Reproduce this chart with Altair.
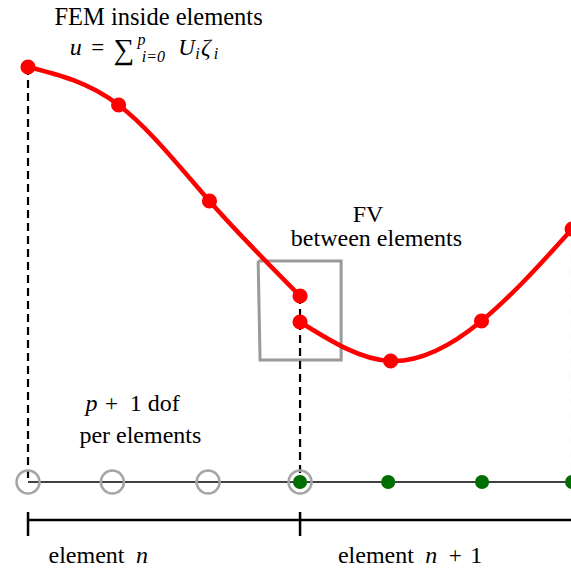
import altair as alt
import pandas as pd

# Coordinates: x runs along the mesh (element n covers [0, 1], element n+1 covers [1, 2]);
# u is the value of the discrete solution, with the dof line at u = 0.
nodes_x_n = [0.0, 0.333, 0.667, 1.0]
nodes_u_n = [4.15, 3.77, 2.81, 1.86]
nodes_x_n1 = [1.0, 1.333, 1.667, 2.0]
nodes_u_n1 = [1.60, 1.21, 1.61, 2.53]

# degrees of freedom drawn on the mesh line
dof_open_x = [0.0, 0.31, 0.662, 1.0]
dof_filled_x = [1.0, 1.324, 1.669, 2.0]

# element interfaces (vertical dashed guides) and the value where each starts
guide_x = [0.0, 1.0, 2.0]
guide_top = [4.15, 1.86, 2.53]

# FV flux box around the interface jump
box_x = [0.846, 1.151, 1.151, 0.853, 0.846]
box_u = [2.21, 2.21, 1.22, 1.22, 2.21]

# element bar below the dof line
bar_u = -0.38
bar_tick_x = [0.0, 1.0]
bar_tick_lo = -0.54
bar_tick_hi = -0.30

FONT = "Liberation Serif"

# text pieces, each centred on (x, u) with u on the text baseline
label_text = ["FEM inside elements",
              "u", "=", "∑", "p", "i=0", "U", "i", "ζ", "i",
              "FV", "between elements",
              "p", "+", "1 dof", "per elements",
              "element", "n", "element", "n", "+", "1"]
label_x = [0.480,
           0.175, 0.256, 0.353, 0.417, 0.461, 0.583, 0.623, 0.654, 0.691,
           1.250, 1.281,
           0.233, 0.307, 0.466, 0.413,
           0.215, 0.419, 1.279, 1.482, 1.570, 1.648]
label_u = [4.57,
           4.27, 4.27, 4.23, 4.37, 4.20, 4.27, 4.23, 4.27, 4.23,
           2.60, 2.36,
           0.71, 0.71, 0.71, 0.39,
           -0.81, -0.81, -0.81, -0.81, -0.81, -0.81]
label_style = ["normal",
               "italic", "normal", "normal", "italic", "italic", "italic", "italic", "italic", "italic",
               "normal", "normal",
               "italic", "normal", "normal", "normal",
               "normal", "italic", "normal", "italic", "normal", "normal"]
label_size = [24.5,
              24, 23, 29, 16, 16, 23, 16, 24, 16,
              24, 24,
              24, 23, 24, 24,
              24, 24, 24, 24, 23, 24]

RED = "#ff0000"
GREEN = "#006e00"
GREY = "#a6a6a6"

xs = alt.Scale(domain=[-0.103, 1.996], nice=False, zero=False)
ys = alt.Scale(domain=[-0.9, 4.82], nice=False, zero=False)

curve = pd.DataFrame({
    "x": nodes_x_n + nodes_x_n1,
    "u": nodes_u_n + nodes_u_n1,
    "element": ["n"] * 4 + ["n+1"] * 4,
})
dof = pd.DataFrame({"x": dof_open_x + dof_filled_x, "u": 0.0,
                    "kind": ["open"] * 4 + ["filled"] * 4})
guides = pd.DataFrame({"x": guide_x, "top": guide_top, "bottom": 0.0})
box = pd.DataFrame({"x": box_x, "u": box_u, "order": list(range(len(box_x)))})
ticks = pd.DataFrame({"x": bar_tick_x, "lo": bar_tick_lo, "hi": bar_tick_hi})
labels = pd.DataFrame({"text": label_text, "x": label_x, "u": label_u,
                       "style": label_style, "size": label_size})


def X(f="x"):
    return alt.X(f"{f}:Q", scale=xs, axis=None)


def Y(f="u"):
    return alt.Y(f"{f}:Q", scale=ys, axis=None)


box_layer = alt.Chart(box).mark_line(color="#999999", strokeWidth=3, strokeJoin="miter").encode(
    x=X(), y=Y(), order="order:Q")

guide_layer = alt.Chart(guides).mark_rule(color="black", strokeWidth=2.2, strokeDash=[8, 5]).encode(
    x=X(), y=Y("top"), y2="bottom:Q")

mesh_line = alt.Chart(pd.DataFrame({"x": [0.0], "x2": [2.0], "u": [0.0]})).mark_rule(
    color="black", strokeWidth=1.4).encode(x=X(), x2="x2:Q", y=Y())

bar_line = alt.Chart(pd.DataFrame({"x": [0.0], "x2": [2.0], "u": [bar_u]})).mark_rule(
    color="black", strokeWidth=2.5).encode(x=X(), x2="x2:Q", y=Y())

tick_layer = alt.Chart(ticks).mark_rule(color="black", strokeWidth=2.5).encode(
    x=X(), y=Y("lo"), y2="hi:Q")

open_dof = alt.Chart(dof).transform_filter("datum.kind == 'open'").mark_point(
    shape="circle", filled=False, color=GREY, strokeWidth=2.5, size=530, opacity=1).encode(
    x=X(), y=Y())

filled_dof = alt.Chart(dof).transform_filter("datum.kind == 'filled'").mark_circle(
    color=GREEN, size=200, opacity=1).encode(x=X(), y=Y())

curve_layer = alt.Chart(curve).mark_line(color=RED, strokeWidth=4.5, interpolate="natural").encode(
    x=X(), y=Y(), detail="element:N")

node_layer = alt.Chart(curve).mark_circle(color=RED, size=230, opacity=1).encode(x=X(), y=Y())

text_layers = []
for style, sub in labels.groupby("style"):
    text_layers.append(
        alt.Chart(sub).mark_text(font=FONT, fontStyle=style, align="center",
                                 baseline="alphabetic", color="black").encode(
            x=X(), y=Y(), text="text:N", size=alt.Size("size:Q", scale=None, legend=None))
    )

chart = alt.layer(
    box_layer, guide_layer, mesh_line, bar_line, tick_layer,
    open_dof, filled_dof, curve_layer, node_layer, *text_layers
).properties(width=571, height=572, padding=0, autosize="none", background="white"
).configure_view(stroke=None)

chart.save("out.html", embed_options={"renderer": "svg", "actions": False})
